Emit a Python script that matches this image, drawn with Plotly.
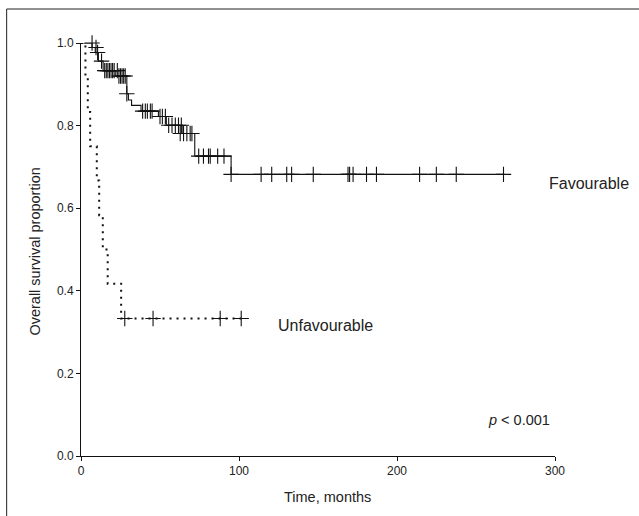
import plotly.graph_objects as go

# ---------------- data ----------------
# Favourable group: Kaplan-Meier step points (time in months, survival proportion)
fav_times = [0, 7, 9, 11, 14, 22, 29, 30, 32, 38, 49, 54, 64, 72, 95, 268]
fav_surv = [1.0, 0.989, 0.977, 0.956, 0.933, 0.920, 0.877, 0.862, 0.849, 0.835,
            0.822, 0.801, 0.781, 0.726, 0.682, 0.682]
# Favourable censored observations
fav_cens_t = [7, 9.5, 10.5, 13,
              15, 16, 17, 18, 19, 20, 21, 23,
              24, 25, 26, 27, 28,
              29,
              39, 40.7, 42, 43.9, 45,
              50, 51.5, 53.4,
              55.5, 57.6, 59.7, 61.7, 63.5,
              62.8, 64.9, 67, 69.1, 70.2,
              74.5, 77.5, 80.7, 81.8, 86.5, 90.5,
              95, 114, 120.7, 130.2, 133.3, 147, 169, 170, 172.2, 180.7, 187,
              214.3, 224.9, 237.5, 267.4]
fav_cens_s = ([1.0, 0.989, 0.977, 0.956] + [0.933] * 8 + [0.920] * 5 + [0.877]
              + [0.835] * 5 + [0.822] * 3 + [0.801] * 5 + [0.781] * 5
              + [0.726] * 6 + [0.682] * 15)

# Unfavourable group
unf_times = [0, 2.8, 4.3, 5.8, 10, 11.5, 13.8, 16.9, 25.4, 101.4]
unf_surv = [1.0, 0.917, 0.833, 0.75, 0.667, 0.583, 0.5, 0.417, 0.333, 0.333]
unf_cens_t = [27.7, 45.6, 88.1, 101.4]
unf_cens_s = [0.333, 0.333, 0.333, 0.333]

x_ticks = [0, 100, 200, 300]
y_ticks = [0.0, 0.2, 0.4, 0.6, 0.8, 1.0]

# ---------------- layout helpers ----------------
W, H = 639, 516
L, R, T, B = 80.5, 83.5, 43, 60
PW, PH = W - L - R, H - T - B


def px_x(px):
    return (px - L) / PW


def px_y(py):
    return (H - B - py) / PH


FONT = "Liberation Sans, Arial, sans-serif"
TXT = "#222222"
INK = "#111111"

fig = go.Figure()

fig.add_trace(go.Scatter(x=fav_times, y=fav_surv, mode="lines", line_shape="hv",
                         line=dict(color=INK, width=1.1), cliponaxis=False,
                         showlegend=False, hoverinfo="skip"))
fig.add_trace(go.Scatter(x=fav_cens_t, y=fav_cens_s, mode="markers",
                         marker=dict(symbol="cross-thin", size=11,
                                     line=dict(color=INK, width=1.1)),
                         cliponaxis=False, showlegend=False, hoverinfo="skip"))
fig.add_trace(go.Scatter(x=unf_times, y=unf_surv, mode="lines", line_shape="hv",
                         line=dict(color=INK, width=2, dash="2px,5px"),
                         cliponaxis=False, showlegend=False, hoverinfo="skip"))
fig.add_trace(go.Scatter(x=unf_cens_t, y=unf_cens_s, mode="markers",
                         marker=dict(symbol="cross-thin", size=11,
                                     line=dict(color=INK, width=1.1)),
                         cliponaxis=False, showlegend=False, hoverinfo="skip"))

fig.update_layout(
    width=W, height=H,
    margin=dict(l=L, r=R, t=T, b=B, autoexpand=False),
    paper_bgcolor="white", plot_bgcolor="white",
    font=dict(family=FONT, color=TXT, size=12),
    xaxis=dict(range=[0, 300], tickvals=x_ticks, ticktext=[str(v) for v in x_ticks],
               showgrid=False, zeroline=False, showline=True, linecolor=INK,
               linewidth=1, ticks="outside", ticklen=4, tickcolor=INK,
               tickfont=dict(size=12, color=TXT)),
    yaxis=dict(range=[0, 1], tickvals=y_ticks, ticktext=[f"{v:.1f}" for v in y_ticks],
               showgrid=False, zeroline=False, showline=True, linecolor=INK,
               linewidth=1, ticks="outside", ticklen=4, tickcolor=INK,
               tickfont=dict(size=12, color=TXT)),
    shapes=[
        dict(type="line", xref="paper", yref="paper", x0=px_x(6), x1=px_x(W + 5),
             y0=px_y(9), y1=px_y(9), line=dict(color="#222222", width=1)),
        dict(type="line", xref="paper", yref="paper", x0=px_x(6), x1=px_x(6),
             y0=px_y(9), y1=px_y(H + 5), line=dict(color="#222222", width=1)),
    ],
    annotations=[
        dict(x=295, y=0.661, xref="x", yref="y", text="Favourable", showarrow=False,
             xanchor="left", yanchor="middle", font=dict(size=16, color=TXT)),
        dict(x=123.4, y=0.315, xref="x", yref="y", text="Unfavourable", showarrow=False,
             xanchor="left", yanchor="middle", font=dict(size=16, color=TXT)),
        dict(x=256.6, y=0.087, xref="x", yref="y", text="<i>p</i> < 0.001",
             showarrow=False, xanchor="left", yanchor="middle",
             font=dict(size=14.5, color=TXT)),
        dict(x=px_x(328), y=px_y(497), xref="paper", yref="paper", text="Time, months",
             showarrow=False, xanchor="center", yanchor="middle",
             font=dict(size=14.5, color=TXT)),
        dict(x=px_x(34), y=px_y(252), xref="paper", yref="paper",
             text="Overall survival proportion", showarrow=False, textangle=-90,
             xanchor="center", yanchor="middle", font=dict(size=14.5, color=TXT)),
    ],
)

fig.write_html("out.html", config={"displayModeBar": False},
               post_script="document.body.style.margin='0px';")
